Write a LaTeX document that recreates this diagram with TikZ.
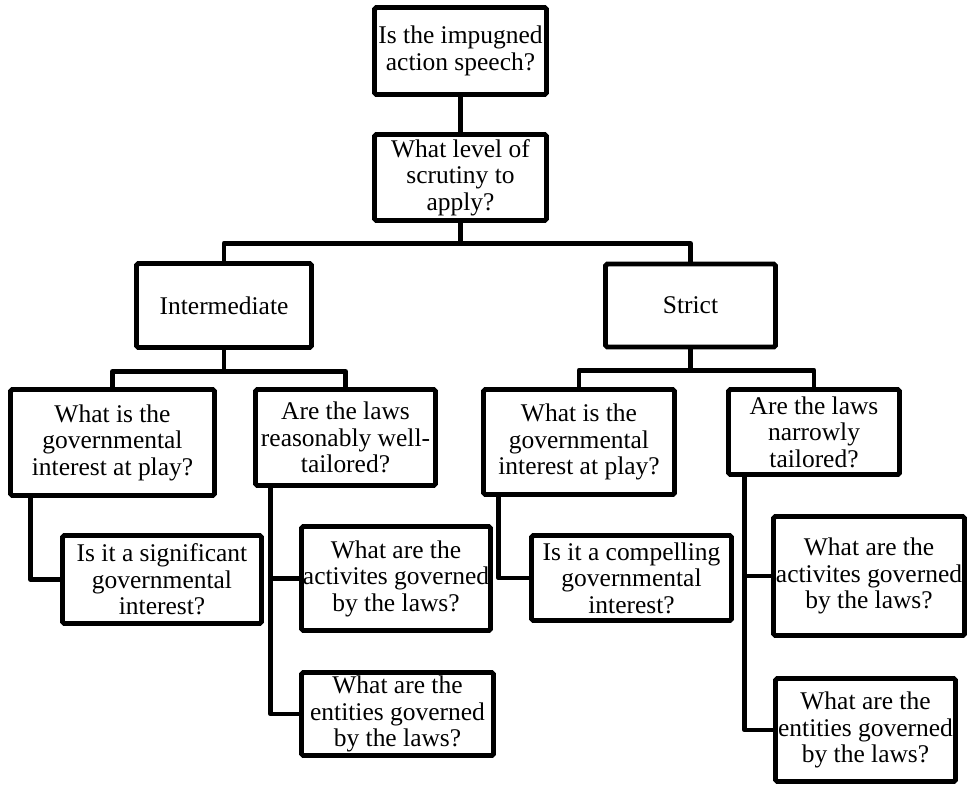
\documentclass[tikz,border=0pt]{standalone}
\usepackage{fontspec}
\setmainfont{Liberation Serif}

\begin{document}
\begin{tikzpicture}[
    box/.style={
        draw,
        line width=2.8pt,
        rounded corners=1pt,
        align=center,
        inner sep=0pt,
        font=\fontsize{14.5pt}{15.1pt}\selectfont
    },
    link/.style={
        line width=2.8pt,
        line join=round
    }
]

\useasboundingbox (0,0) rectangle (19.44,-15.72);

% top questions
\node[box, minimum width=3.44cm, minimum height=1.74cm] (Q1) at (9.21,-1.02) {Is the impugned\\action speech?};
\node[box, minimum width=3.44cm, minimum height=1.72cm] (Q2) at (9.21,-3.55) {What level of\\scrutiny to\\apply?};

% levels of scrutiny
\node[box, minimum width=3.50cm, minimum height=1.68cm] (INT) at (4.48,-6.11) {Intermediate};
\node[box, minimum width=3.40cm, minimum height=1.66cm] (STR) at (13.81,-6.11) {Strict};

% intermediate branch
\node[box, minimum width=4.08cm, minimum height=2.12cm] (IG) at (2.25,-8.85) {What is the\\governmental\\interest at play?};
\node[box, minimum width=3.60cm, minimum height=1.92cm] (IT) at (6.91,-8.75) {Are the laws\\reasonably well-\\tailored?};
\node[box, minimum width=3.98cm, minimum height=1.76cm] (ISIG) at (3.24,-11.59) {Is it a significant\\governmental\\interest?};
\node[box, minimum width=3.78cm, minimum height=2.08cm] (IACT) at (7.92,-11.57) {What are the\\activites governed\\by the laws?};
\node[box, minimum width=3.84cm, minimum height=1.66cm] (IENT) at (7.95,-14.28) {What are the\\entities governed\\by the laws?};

% strict branch
\node[box, minimum width=3.82cm, minimum height=2.10cm] (SG) at (11.58,-8.84) {What is the\\governmental\\interest at play?};
\node[box, minimum width=3.42cm, minimum height=1.70cm] (SN) at (16.28,-8.64) {Are the laws\\narrowly\\tailored?};
\node[box, minimum width=4.00cm, minimum height=1.70cm] (SCOMP) at (12.63,-11.56) {Is it a compelling\\governmental\\interest?};
\node[box, minimum width=3.82cm, minimum height=2.38cm] (SACT) at (17.38,-11.52) {What are the\\activites governed\\by the laws?};
\node[box, minimum width=3.60cm, minimum height=2.06cm] (SENT) at (17.31,-14.60) {What are the\\entities governed\\by the laws?};

% tree links
\draw[link] (Q1) -- (Q2);
\draw[link] (Q2.south) -- ++(0,-0.41) -| (INT.north);
\draw[link] (Q2.south) -- ++(0,-0.41) -| (STR.north);

\draw[link] (INT.south) -- ++(0,-0.43) -| (IG.north);
\draw[link] (INT.south) -- ++(0,-0.43) -| (IT.north);
\draw[link] (STR.south) -- ++(0,-0.42) -| (SG.north);
\draw[link] (STR.south) -- ++(0,-0.42) -| (SN.north);

% side links
\draw[link] ([xshift=0.45cm]IG.south west) |- (ISIG.west);
\draw[link] ([xshift=0.35cm]IT.south west) |- (IACT.west);
\draw[link] ([xshift=0.35cm]IT.south west) |- (IENT.west);
\draw[link] ([xshift=0.35cm]SG.south west) |- (SCOMP.west);
\draw[link] ([xshift=0.37cm]SN.south west) |- (SACT.west);
\draw[link] ([xshift=0.37cm]SN.south west) |- (SENT.west);

\end{tikzpicture}
\end{document}
